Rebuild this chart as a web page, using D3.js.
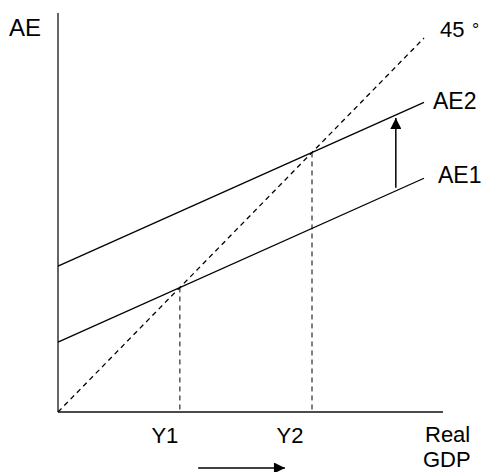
<!DOCTYPE html>
<html>
<head>
<meta charset="utf-8">
<script src="https://cdn.jsdelivr.net/npm/d3@7"></script>
<style>
  body { margin: 0; background: #fff; }
  text { font-family: "Liberation Sans", Arial, sans-serif; fill: #000; }
</style>
</head>
<body>
<div id="chart"></div>
<script>
// Podatki (enote modela, ne piksli)
const xDomain = [0, 100];
const yDomain = [0, 100];
const axisEnd = { x: 105.2, y: 106.7 };
const line45 = [[0, 0], [100, 100]];
const intercepts = { AE1: 18.7, AE2: 39.0 };
const mpc = 0.438;
const lineEnd = 100;
const equilibria = [33.3, 69.4];
const eqLabels = ["Y1", "Y2"];
const shiftAt = 92.3;
const moveArrow = [38.3, 62.0];

const width = 483, height = 472;

const svg = d3.select("#chart").append("svg")
    .attr("width", width)
    .attr("height", height);

// skale
const x = d3.scaleLinear().domain(xDomain).range([58, 424]);
const y = d3.scaleLinear().domain(yDomain).range([412, 38]);

const defs = svg.append("defs");
defs.append("marker")
    .attr("id", "head")
    .attr("viewBox", "0 0 10 10")
    .attr("refX", 10).attr("refY", 5)
    .attr("markerWidth", 15).attr("markerHeight", 11)
    .attr("markerUnits", "userSpaceOnUse")
    .attr("orient", "auto")
    .append("path")
    .attr("d", "M0,0L10,5L0,10Z")
    .attr("fill", "#000");

// osi
svg.append("line")
    .attr("x1", x(0)).attr("y1", y(0))
    .attr("x2", x(0)).attr("y2", y(axisEnd.y))
    .attr("stroke", "#333").attr("stroke-width", 1.5);
svg.append("line")
    .attr("x1", x(0)).attr("y1", y(0))
    .attr("x2", x(axisEnd.x)).attr("y2", y(0))
    .attr("stroke", "#111").attr("stroke-width", 1.5);

const line = d3.line().x(d => x(d[0])).y(d => y(d[1]));

// 45 stopinj
svg.append("path")
    .attr("d", line(line45))
    .attr("fill", "none")
    .attr("stroke", "#000")
    .attr("stroke-width", 1.3)
    .attr("stroke-dasharray", "5,4");

// AE premice
Object.keys(intercepts).forEach(k => {
    const a = intercepts[k];
    svg.append("path")
        .attr("d", line([[0, a], [lineEnd, a + mpc * lineEnd]]))
        .attr("fill", "none")
        .attr("stroke", "#000")
        .attr("stroke-width", 1.3);
});

// navpicne crtkane
equilibria.forEach(e => {
    svg.append("line")
        .attr("x1", x(e)).attr("y1", y(e))
        .attr("x2", x(e)).attr("y2", y(0))
        .attr("stroke", "#000")
        .attr("stroke-width", 1)
        .attr("stroke-dasharray", "5,4");
});

// puscica premika
svg.append("line")
    .attr("x1", x(shiftAt)).attr("y1", y(intercepts.AE1 + mpc * shiftAt) - 3)
    .attr("x2", x(shiftAt)).attr("y2", y(intercepts.AE2 + mpc * shiftAt) + 3)
    .attr("stroke", "#000")
    .attr("stroke-width", 1.5)
    .attr("marker-end", "url(#head)");

// puscica pod osjo
svg.append("line")
    .attr("x1", x(moveArrow[0])).attr("y1", y(0) + 56)
    .attr("x2", x(moveArrow[1])).attr("y2", y(0) + 56)
    .attr("stroke", "#000")
    .attr("stroke-width", 1.5)
    .attr("marker-end", "url(#head)");

// besedila
svg.append("text").attr("x", 9).attr("y", 36)
    .attr("font-size", "24px").text("AE");
svg.append("text").attr("x", x(lineEnd) + 16).attr("y", y(100) - 1)
    .attr("font-size", "22px").text("45");
svg.append("text").attr("x", x(lineEnd) + 48).attr("y", y(100) - 2)
    .attr("font-size", "18px").text("°");
svg.append("text").attr("x", x(lineEnd) + 9).attr("y", y(intercepts.AE2 + mpc * lineEnd) + 7)
    .attr("font-size", "23px").text("AE2");
svg.append("text").attr("x", x(lineEnd) + 14).attr("y", y(intercepts.AE1 + mpc * lineEnd) + 5)
    .attr("font-size", "23px").text("AE1");

const labelShift = [-15, -22];
equilibria.forEach((e, i) => {
    svg.append("text")
        .attr("x", x(e) + labelShift[i]).attr("y", y(0) + 31)
        .attr("text-anchor", "middle")
        .attr("font-size", "22px")
        .text(eqLabels[i]);
});
svg.append("text").attr("x", 425).attr("y", y(0) + 30)
    .attr("font-size", "22px").text("Real");
svg.append("text").attr("x", 423).attr("y", y(0) + 55)
    .attr("font-size", "22px").text("GDP");
</script>
</body>
</html>
